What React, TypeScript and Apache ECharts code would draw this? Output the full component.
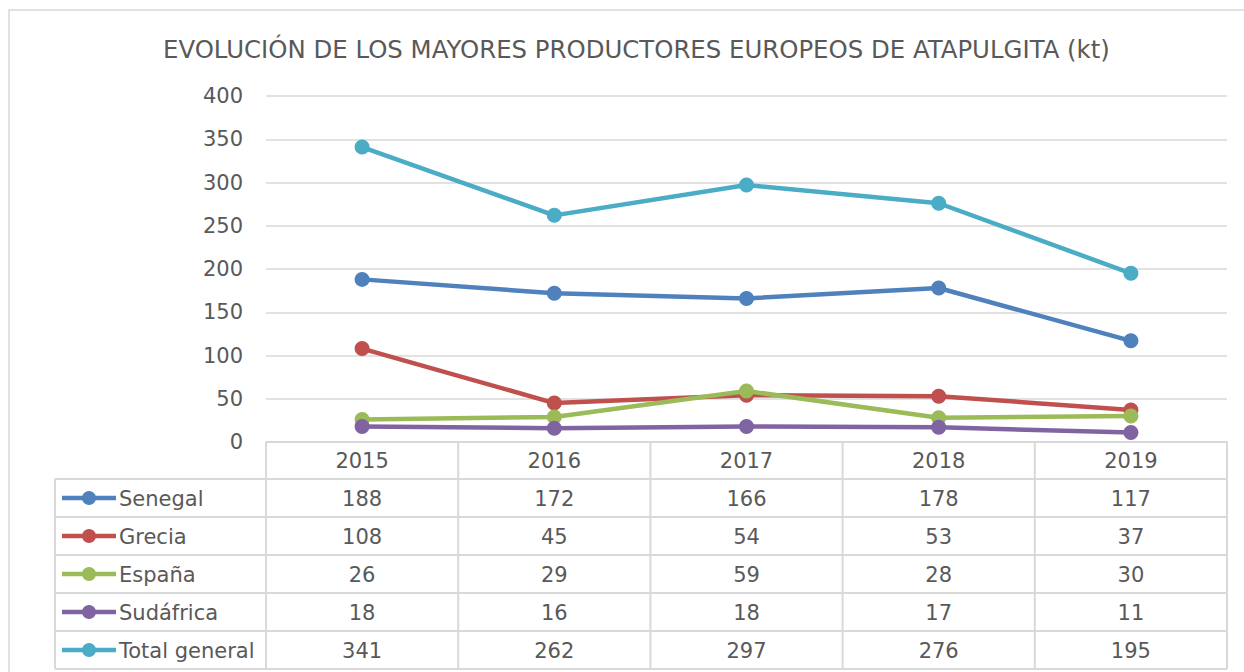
import React, { useEffect, useRef } from "react";
import * as echarts from "echarts";

const title = "EVOLUCIÓN DE LOS MAYORES PRODUCTORES EUROPEOS DE ATAPULGITA (kt)";
const years = ["2015", "2016", "2017", "2018", "2019"];
const seriesNames = ["Senegal", "Grecia", "España", "Sudáfrica", "Total general"];
const senegal = [188, 172, 166, 178, 117];
const grecia = [108, 45, 54, 53, 37];
const espana = [26, 29, 59, 28, 30];
const sudafrica = [18, 16, 18, 17, 11];
const total = [341, 262, 297, 276, 195];
const colors = ["#4F81BD", "#C0504D", "#9BBB59", "#8064A2", "#4BACC6"];
const yTicks = { min: 0, max: 400, interval: 50 };

const W = 1244;
const H = 672;
const FONT = "DejaVu Sans";
const TXT = "#595959";
const GRID = "#D9D9D9";
const FS = 21;

export default function App() {
  const ref = useRef<HTMLDivElement>(null);
  useEffect(() => {
    if (!ref.current) return;
    const chart = echarts.init(ref.current, null, { renderer: "svg" });
    const values = [senegal, grecia, espana, sudafrica, total];

    const plotL = 266;
    const plotR = 1227;
    const plotT = 96;
    const plotB = 442;
    const tabL = 55;
    const headerB = 479;
    const rowH = 38;
    const colW = (plotR - plotL) / years.length;

    const g: any[] = [];
    g.push({
      type: "rect",
      shape: { x: 9, y: 10, width: 1400, height: 800 },
      style: { fill: "none", stroke: GRID, lineWidth: 1.5 },
      silent: true,
    });
    const tabBottom = headerB + rowH * seriesNames.length;
    for (let i = 0; i <= seriesNames.length; i++) {
      const y = headerB + rowH * i;
      g.push({
        type: "line",
        shape: { x1: tabL, y1: y, x2: plotR, y2: y },
        style: { stroke: GRID, lineWidth: 2 },
        silent: true,
      });
    }
    g.push({
      type: "line",
      shape: { x1: tabL, y1: headerB, x2: tabL, y2: tabBottom },
      style: { stroke: GRID, lineWidth: 2 },
      silent: true,
    });
    for (let j = 0; j <= years.length; j++) {
      const x = plotL + colW * j;
      g.push({
        type: "line",
        shape: { x1: x, y1: plotB, x2: x, y2: tabBottom },
        style: { stroke: GRID, lineWidth: 2 },
        silent: true,
      });
    }
    seriesNames.forEach((name, i) => {
      const cy = headerB + rowH * i + rowH / 2;
      g.push({
        type: "line",
        shape: { x1: 62, y1: cy, x2: 116, y2: cy },
        style: { stroke: colors[i], lineWidth: 4.5 },
        silent: true,
      });
      g.push({
        type: "circle",
        shape: { cx: 89, cy, r: 7 },
        style: { fill: colors[i] },
        silent: true,
      });
      g.push({
        type: "text",
        x: 119,
        y: cy + 0.5,
        style: {
          text: name,
          fill: TXT,
          font: `${FS}px "${FONT}"`,
          verticalAlign: "middle",
          align: "left",
        },
        silent: true,
      });
      values[i].forEach((v, j) => {
        g.push({
          type: "text",
          x: plotL + colW * j + colW / 2,
          y: cy + 0.5,
          style: {
            text: String(v),
            fill: TXT,
            font: `${FS}px "${FONT}"`,
            align: "center",
            verticalAlign: "middle",
          },
          silent: true,
        });
      });
    });

    chart.setOption({
      animation: false,
      backgroundColor: "#ffffff",
      title: {
        text: title,
        left: 158,
        top: 32,
        textStyle: {
          fontFamily: FONT,
          fontSize: 24.4,
          fontWeight: "normal",
          color: TXT,
        },
      },
      grid: {
        left: plotL,
        right: W - plotR,
        top: plotT,
        bottom: H - plotB,
        containLabel: false,
      },
      xAxis: {
        type: "category",
        data: years,
        boundaryGap: true,
        axisLine: { lineStyle: { color: GRID, width: 2 } },
        axisTick: { show: false },
        axisLabel: {
          color: TXT,
          fontFamily: FONT,
          fontSize: FS,
          margin: 8,
        },
      },
      yAxis: {
        type: "value",
        min: yTicks.min,
        max: yTicks.max,
        interval: yTicks.interval,
        axisLine: { show: false },
        axisTick: { show: false },
        splitLine: { lineStyle: { color: GRID, width: 1.5 } },
        axisLabel: {
          color: TXT,
          fontFamily: FONT,
          fontSize: FS,
          margin: 23,
        },
      },
      series: seriesNames.map((name, i) => ({
        name,
        type: "line",
        data: values[i],
        symbol: "circle",
        symbolSize: 15,
        lineStyle: { color: colors[i], width: 4.5 },
        itemStyle: { color: colors[i] },
        z: 3 + i,
      })),
      graphic: g,
    });
    return () => chart.dispose();
  }, []);
  return (
    <div
      ref={ref}
      style={{ position: "fixed", left: 0, top: 0, width: W, height: H }}
    />
  );
}
